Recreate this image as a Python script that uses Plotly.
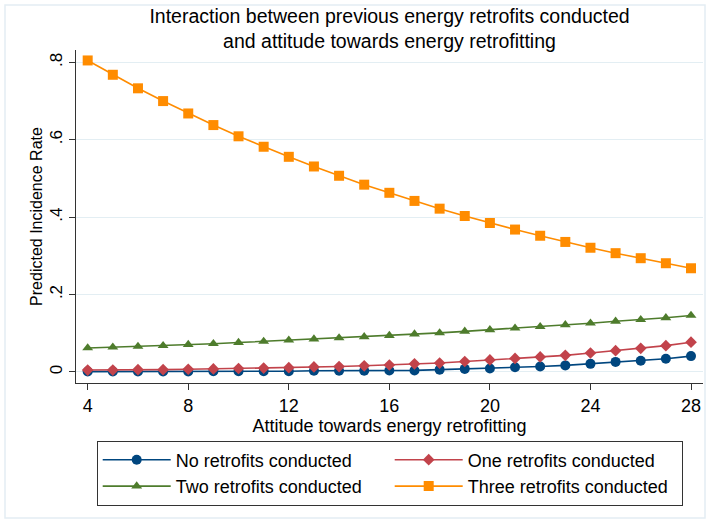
import plotly.graph_objects as go

attitude = list(range(4, 29))

no_retrofits = [0.001, 0.001, 0.001, 0.001, 0.001, 0.002, 0.002, 0.002, 0.002, 0.003,
                0.003, 0.003, 0.004, 0.004, 0.006, 0.008, 0.009, 0.012, 0.014, 0.017,
                0.021, 0.026, 0.029, 0.034, 0.041]
one_retrofit = [0.005, 0.005, 0.006, 0.006, 0.007, 0.008, 0.009, 0.010, 0.011, 0.013,
                0.014, 0.016, 0.018, 0.021, 0.023, 0.027, 0.031, 0.035, 0.039, 0.043,
                0.049, 0.055, 0.061, 0.068, 0.077]
two_retrofits = [0.062, 0.064, 0.066, 0.068, 0.071, 0.073, 0.076, 0.079, 0.082, 0.085,
                 0.088, 0.091, 0.094, 0.098, 0.101, 0.105, 0.109, 0.113, 0.117, 0.122,
                 0.126, 0.131, 0.135, 0.140, 0.146]
three_retrofits = [0.805, 0.768, 0.733, 0.700, 0.668, 0.638, 0.609, 0.582, 0.556, 0.531,
                   0.507, 0.484, 0.463, 0.442, 0.422, 0.403, 0.385, 0.368, 0.352, 0.336,
                   0.321, 0.307, 0.294, 0.281, 0.268]

series_names = ["No retrofits conducted", "One retrofits conducted",
                "Two retrofits conducted", "Three retrofits conducted"]
x_ticks = [4, 8, 12, 16, 20, 24, 28]
y_ticks = [0, 0.2, 0.4, 0.6, 0.8]
y_tick_labels = ["0", ".2", ".4", ".6", ".8"]

FONT = "Liberation Sans, Arial, sans-serif"

styles = [
    dict(color="#00467f", symbol="circle", size=10),
    dict(color="#c2434b", symbol="diamond", size=9),
    dict(color="#4e7c2c", symbol="triangle-up", size=9.5),
    dict(color="#ff8c00", symbol="square", size=10),
]
data = [no_retrofits, one_retrofit, two_retrofits, three_retrofits]

fig = go.Figure()
for name, ys, st in zip(series_names, data, styles):
    fig.add_trace(go.Scatter(
        x=attitude, y=ys, mode="lines+markers", name=name,
        line=dict(color=st["color"], width=1.6),
        marker=dict(color=st["color"], symbol=st["symbol"], size=st["size"],
                    line=dict(width=0)),
    ))

L, R, T, B = 76, 7, 50, 140
W, H = 710, 523
pw, ph = W - L - R, H - T - B

def px_x(p):
    return (p - L) / pw

def px_y(p):
    return (H - B - p) / ph

fig.update_layout(
    width=W, height=H,
    margin=dict(l=L, r=R, t=T, b=B, autoexpand=False),
    paper_bgcolor="white", plot_bgcolor="white",
    font=dict(family=FONT, size=17, color="#000"),
    title=dict(
        text="Interaction between previous energy retrofits conducted<br>and attitude towards energy retrofitting",
        x=0.5, xref="paper", xanchor="center",
        y=1, yref="paper", yanchor="bottom", pad=dict(b=27),
        font=dict(family=FONT, size=19.5, color="#000"),
    ),
    xaxis=dict(
        range=[3.535, 28.477], tickvals=x_ticks, showgrid=False, zeroline=False,
        showline=True, linecolor="#333", linewidth=1.2,
        ticks="outside", ticklen=6, tickcolor="#333", tickwidth=1.2,
        tickfont=dict(size=18),
        title=dict(text="Attitude towards energy retrofitting", font=dict(size=18), standoff=1),
    ),
    yaxis=dict(
        range=[-0.0285, 0.832], tickvals=y_ticks, ticktext=y_tick_labels,
        tickangle=-90, showgrid=True, gridcolor="#e3eef3", gridwidth=1.2,
        zeroline=False, showline=True, linecolor="#333", linewidth=1.2,
        ticks="outside", ticklen=6, tickcolor="#333", tickwidth=1.2,
        tickfont=dict(size=17),
        title=dict(text="Predicted Incidence Rate", font=dict(size=16), standoff=0),
    ),
    legend=dict(
        orientation="h", x=px_x(96.7), xanchor="left", y=px_y(440.5), yanchor="top",
        xref="paper", yref="paper",
        entrywidth=209, entrywidthmode="pixels", itemwidth=68,
        bordercolor="#333", borderwidth=1, bgcolor="white",
        font=dict(family=FONT, size=18, color="#000"),
    ),
    showlegend=True,
    shapes=[dict(type="rect", xref="paper", yref="paper",
                 x0=px_x(5), x1=px_x(705), y0=px_y(518), y1=px_y(5),
                 line=dict(color="#e4edf3", width=1.5), fillcolor="rgba(0,0,0,0)",
                 layer="below")],
)

fig.write_html("out.html")
